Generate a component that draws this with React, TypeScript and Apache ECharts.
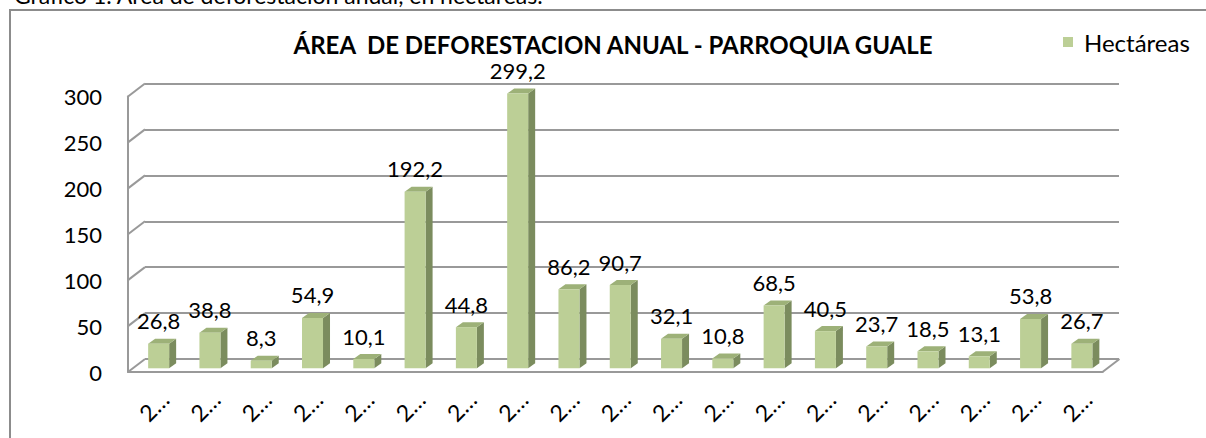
import React, { useEffect, useRef } from "react";
import * as echarts from "echarts";

const categories = ["2…", "2…", "2…", "2…", "2…", "2…", "2…", "2…", "2…", "2…", "2…", "2…", "2…", "2…", "2…", "2…", "2…", "2…", "2…"];
const hectareas = [26.8, 38.8, 8.3, 54.9, 10.1, 192.2, 44.8, 299.2, 86.2, 90.7, 32.1, 10.8, 68.5, 40.5, 23.7, 18.5, 13.1, 53.8, 26.7];
const yTicks = [0, 50, 100, 150, 200, 250, 300];
const seriesName = "Hectáreas";
const chartTitle = "ÁREA  DE DEFORESTACION ANUAL - PARROQUIA GUALE";
const caption = "Gráfico 1. Área de deforestación anual, en hectáreas.";

const FONT = "Lato, 'Noto Sans', sans-serif";
const GRID_COLOR = "#999999";
const DX = 17;
const DY = -13;

export default function App() {
  const ref = useRef<HTMLDivElement>(null);
  useEffect(() => {
    if (!ref.current) return;
    const chart = echarts.init(ref.current, null, { renderer: "svg" });
    const option: any = {
      animation: false,
      backgroundColor: "#ffffff",
      title: {
        text: chartTitle,
        left: 613,
        top: 32,
        padding: 0,
        textAlign: "center",
        textStyle: { fontFamily: FONT, fontSize: 24, fontWeight: "bold", color: "#000" },
      },
      legend: {
        data: [seriesName],
        left: 1063,
        top: 30,
        padding: 0,
        icon: "rect",
        itemWidth: 10,
        itemHeight: 10,
        textStyle: { fontFamily: FONT, fontSize: 24, color: "#000", padding: [0, 0, 0, 6] },
      },
      graphic: [
        {
          type: "rect",
          shape: { x: 10, y: 10, width: 1400, height: 600 },
          style: { fill: "none", stroke: "#8c8c8c", lineWidth: 2 },
          z: 0,
        },
        {
          type: "text",
          x: 14,
          y: -5,
          style: { text: caption, fontFamily: FONT, fontSize: 23, fill: "#000", verticalAlign: "middle" },
        },
      ],
      grid: [
        // mid plane: bars
        { left: 133, right: 98.5, top: 92.8, bottom: 69.7 },
        // front plane: axes & labels
        { left: 128, right: 103.5, top: 96.5, bottom: 66 },
        // back plane: gridlines
        { left: 145, right: 87, top: 83.5, bottom: 79 },
      ],
      xAxis: [
        { type: "category", gridIndex: 0, data: categories, show: false },
        {
          type: "category",
          gridIndex: 1,
          data: categories,
          axisLine: { show: true, lineStyle: { color: GRID_COLOR, width: 2 } },
          axisTick: { show: false },
          axisLabel: {
            rotate: 45,
            align: "center",
            verticalAlign: "middle",
            margin: 34,
            interval: 0,
            fontFamily: FONT,
            fontSize: 23,
            color: "#000",
          },
        },
        { type: "category", gridIndex: 2, data: categories, show: false },
      ],
      yAxis: [
        { type: "value", gridIndex: 0, min: 0, max: 300, interval: 50, show: false },
        {
          type: "value",
          gridIndex: 1,
          min: 0,
          max: 300,
          interval: 50,
          axisLine: { show: true, lineStyle: { color: GRID_COLOR, width: 2 } },
          axisTick: { show: false },
          splitLine: { show: false },
          axisLabel: { margin: 26, fontFamily: FONT, fontSize: 22, color: "#000" },
        },
        {
          type: "value",
          gridIndex: 2,
          min: 0,
          max: 300,
          interval: 50,
          axisLine: { show: false },
          axisTick: { show: false },
          axisLabel: { show: false },
          splitLine: { show: true, lineStyle: { color: GRID_COLOR, width: 2 } },
        },
      ],
      series: [
        {
          type: "custom",
          name: "frame",
          xAxisIndex: 1,
          yAxisIndex: 1,
          silent: true,
          z: 1,
          data: yTicks.map((v) => [0, v]),
          renderItem: (params: any, api: any) => {
            const cs = params.coordSys;
            const v = api.value(1);
            const y = api.coord([0, v])[1];
            const children: any[] = [
              {
                type: "line",
                shape: { x1: cs.x, y1: y, x2: cs.x + DX, y2: y + DY },
                style: { stroke: GRID_COLOR, lineWidth: 2 },
              },
            ];
            if (v === 0) {
              const xr = cs.x + cs.width;
              children.push({
                type: "line",
                shape: { x1: xr, y1: y, x2: xr + DX, y2: y + DY },
                style: { stroke: GRID_COLOR, lineWidth: 2 },
              });
            }
            return { type: "group", children };
          },
        },
        {
          type: "bar",
          name: seriesName,
          xAxisIndex: 0,
          yAxisIndex: 0,
          data: hectareas,
          barWidth: 21,
          z: 3,
          itemStyle: { color: "#bccf96" },
          label: {
            show: true,
            position: "top",
            distance: 12,
            fontFamily: FONT,
            fontSize: 22,
            color: "#000",
            formatter: (p: any) => String(p.value).replace(".", ","),
          },
        },
        {
          type: "custom",
          name: "caps",
          xAxisIndex: 0,
          yAxisIndex: 0,
          silent: true,
          z: 2,
          data: hectareas.map((v, i) => [i, v]),
          renderItem: (params: any, api: any) => {
            const i = api.value(0);
            const v = api.value(1);
            const top = api.coord([i, v]);
            const base = api.coord([i, 0]);
            const x0 = top[0] - 10.5;
            const x1 = top[0] + 10.5;
            const d = 7;
            const e = -5;
            return {
              type: "group",
              children: [
                {
                  type: "polygon",
                  shape: {
                    points: [
                      [x1, top[1]],
                      [x1 + d, top[1] + e],
                      [x1 + d, base[1] + e],
                      [x1, base[1]],
                    ],
                  },
                  style: { fill: "#7b8c5e" },
                },
                {
                  type: "polygon",
                  shape: {
                    points: [
                      [x0, top[1]],
                      [x0 + d, top[1] + e],
                      [x1 + d, top[1] + e],
                      [x1, top[1]],
                    ],
                  },
                  style: { fill: "#9db178" },
                },
              ],
            };
          },
        },
      ],
    };
    chart.setOption(option);
    return () => chart.dispose();
  }, []);
  return (
    <div
      ref={ref}
      style={{ position: "fixed", left: 0, top: 0, width: 1206, height: 438 }}
    />
  );
}
